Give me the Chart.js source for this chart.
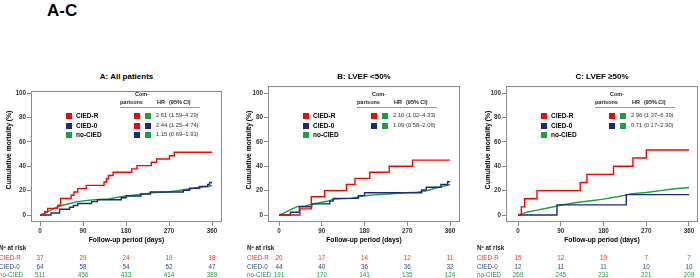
<!DOCTYPE html>
<html>
<head>
<meta charset="utf-8">
<title>Cumulative mortality A-C</title>
<script src="https://cdn.jsdelivr.net/npm/chart.js@4.4.1/dist/chart.umd.min.js"></script>
<style>
  body { margin: 0; background: #fff; }
  #fig { position: relative; width: 700px; height: 278px; overflow: hidden; font-family: "Liberation Sans", Arial, sans-serif; }
  #fig canvas { position: absolute; }
  .t { position: absolute; white-space: nowrap; line-height: 1; }
  .sq { position: absolute; width: 6px; height: 6px; }
  .rule { position: absolute; height: 0; border-top: 1px solid #999; }
</style>
</head>
<body>
<div id="fig"></div>
<script>
// ---- data ----
const tickDays = [0, 90, 180, 270, 360];
const tickPct = [0, 20, 40, 60, 80, 100];
const groups = ['CIED-R', 'CIED-0', 'no-CIED'];
const panelTitles = ['A:  All patients', 'B:  LVEF <50%', 'C:  LVEF \u226550%'];

// A: all patients
const daysA_R = [0, 10, 16, 37, 43, 65, 71, 79, 97, 134, 139, 143, 153, 192, 203, 233, 244, 271, 281, 360];
const pctA_R  = [0, 2.7, 5.4, 8.1, 13.5, 16.2, 18.9, 21.6, 24.3, 27.0, 29.7, 32.4, 35.1, 37.8, 40.5, 43.2, 45.9, 48.6, 51.4, 51.4];
const daysA_0 = [0, 23, 41, 62, 70, 79, 108, 120, 170, 180, 211, 231, 300, 313, 334, 351, 355, 360];
const pctA_0  = [0, 1.6, 4.7, 6.3, 7.8, 9.4, 11.0, 12.5, 14.1, 15.6, 17.2, 18.8, 20.3, 21.9, 23.4, 25.0, 26.6, 26.6];
const daysA_N = [0, 8, 16, 25, 37, 48, 58, 70, 79, 95, 108, 125, 143, 160, 180, 195, 211, 225, 238, 255, 270, 285, 298, 315, 334, 348, 360];
const pctA_N  = [0, 1.2, 2.7, 4.5, 6.8, 8.0, 9.0, 10.2, 11.0, 11.8, 12.3, 12.7, 13.1, 14.3, 15.6, 16.3, 17.0, 17.6, 18.3, 18.7, 19.1, 19.8, 20.5, 21.5, 22.7, 23.4, 24.0];

// B: LVEF <50%
const daysB_R = [0, 44, 68, 96, 142, 160, 191, 232, 281, 360];
const pctB_R  = [0, 5, 15, 20, 25, 30, 35, 40, 45, 45];
const daysB_0 = [0, 24, 43, 69, 107, 114, 167, 180, 300, 310, 341, 355, 360];
const pctB_0  = [0, 2.3, 6.8, 9.1, 11.4, 13.6, 15.9, 18.2, 20.5, 22.7, 25.0, 27.3, 27.3];
const daysB_N = [0, 10, 20, 30, 40, 55, 69, 85, 104, 114, 130, 150, 165, 180, 200, 230, 250, 270, 290, 300, 315, 328, 345, 360];
const pctB_N  = [0, 1.5, 3.5, 5.5, 7.0, 7.5, 8.8, 10.0, 11.5, 12.8, 13.2, 13.6, 14.5, 15.8, 16.5, 17.2, 17.8, 18.3, 18.7, 19.0, 20.3, 21.9, 23.5, 25.0];

// C: LVEF >=50%
const daysC_R = [0, 7, 14, 40, 131, 145, 201, 242, 270, 360];
const pctC_R  = [0, 6.7, 13.3, 20.0, 26.7, 33.3, 40.0, 46.7, 53.3, 53.3];
const daysC_0 = [0, 82, 228, 360];
const pctC_0  = [0, 8.3, 16.7, 16.7];
const daysC_N = [0, 10, 20, 40, 60, 90, 120, 150, 180, 210, 240, 270, 300, 330, 360];
const pctC_N  = [0, 1.0, 2.5, 4.0, 5.5, 8.0, 10.0, 11.5, 13.0, 15.0, 17.5, 18.5, 20.0, 21.5, 22.5];

// numbers at risk
const riskA_R = [37, 29, 24, 19, 18];
const riskA_0 = [64, 58, 54, 52, 47];
const riskA_N = [511, 456, 433, 414, 389];
const riskB_R = [20, 17, 14, 12, 11];
const riskB_0 = [44, 40, 36, 36, 32];
const riskB_N = [191, 170, 141, 135, 124];
const riskC_R = [15, 12, 10, 7, 7];
const riskC_0 = [12, 11, 11, 10, 10];
const riskC_N = [269, 245, 231, 221, 209];

// hazard ratio comparisons (pairs index into groups)
const hrA = ['2.61 (1.59\u20134.29)', '2.44 (1.25\u20134.74)', '1.15 (0.69\u20131.91)'];
const hrPairsA = [[0, 2], [0, 1], [1, 2]];
const hrB = ['2.10 (1.02\u20134.33)', '1.09 (0.58\u20132.06)'];
const hrPairsB = [[0, 2], [1, 2]];
const hrC = ['2.96 (1.37\u20136.39)', '0.71 (0.17\u20132.90)'];
const hrPairsC = [[0, 2], [1, 2]];

// ---- styling ----
const lineCols = ['#ff0000', '#1b2a7a', '#1e9e3c'];
const riskCols = ['#ff2a2a', '#34458f', '#1e9e3c'];
const FONT = '"Liberation Sans", Arial, sans-serif';
const fig = document.getElementById('fig');

function addText(str, x, y, o) {
    o = o || {};
    const el = document.createElement('div');
    el.className = 't';
    el.textContent = str;
    el.style.left = x + 'px';
    el.style.top = y + 'px';
    el.style.fontSize = (o.size || 7) + 'px';
    el.style.fontWeight = o.bold ? 'bold' : 'normal';
    el.style.color = o.color || '#000';
    const tx = o.align === 'center' ? '-50%' : (o.align === 'right' ? '-100%' : '0');
    el.style.transform = 'translate(' + tx + ',-50%)' + (o.rotate ? ' rotate(-90deg)' : '');
    fig.appendChild(el);
}

function addSquare(x, y, col) {
    const el = document.createElement('div');
    el.className = 'sq';
    el.style.left = x + 'px';
    el.style.top = (y - 3) + 'px';
    el.style.background = col;
    fig.appendChild(el);
}

const framePlugin = {
    id: 'frame',
    afterDraw(chart) {
        const a = chart.chartArea, ctx = chart.ctx;
        ctx.save();
        ctx.strokeStyle = '#8a8a8a';
        ctx.lineWidth = 1;
        ctx.strokeRect(Math.round(a.left) + 0.5, Math.round(a.top) + 0.5,
                       Math.round(a.right - a.left) - 1, Math.round(a.bottom - a.top) - 1);
        ctx.restore();
    }
};

function toPoints(days, pct) {
    return days.map((d, i) => ({ x: d, y: pct[i] }));
}

function buildPanel(p) {
    const padL = 4, padT = 6, padR = 4, padB = 2, yW = 22, xH = 16;
    const left = p.box.l - yW - padL, top = p.box.t - padT;
    const w = p.box.r - p.box.l + yW + padL + padR;
    const h = p.box.b - p.box.t + xH + padT + padB;
    const cv = document.createElement('canvas');
    cv.width = w; cv.height = h;
    cv.style.left = left + 'px'; cv.style.top = top + 'px';
    cv.style.width = w + 'px'; cv.style.height = h + 'px';
    fig.appendChild(cv);

    const pxDay = (p.x360 - p.x0) / 360;
    const pxPct = (p.y0 - p.y100) / 100;
    const xmin = (p.box.l - p.x0) / pxDay;
    const xmax = 360 + (p.box.r - p.x360) / pxDay;
    const ymax = 100 + (p.y100 - p.box.t) / pxPct;
    const ymin = -(p.box.b - p.y0) / pxPct;

    const tickFont = { family: FONT, size: 6.3, weight: 'bold' };
    const chart = new Chart(cv, {
        type: 'line',
        data: {
            datasets: [
                { data: toPoints(p.days[0], p.pct[0]), borderColor: lineCols[0], stepped: true },
                { data: toPoints(p.days[1], p.pct[1]), borderColor: lineCols[1], stepped: true },
                { data: toPoints(p.days[2], p.pct[2]), borderColor: lineCols[2], stepped: false }
            ]
        },
        options: {
            responsive: false,
            animation: false,
            devicePixelRatio: 1,
            layout: { padding: { left: padL, top: padT, right: padR, bottom: padB } },
            elements: {
                point: { radius: 0 },
                line: { borderWidth: 1.4, tension: 0, fill: false, borderCapStyle: 'butt', borderJoinStyle: 'miter' }
            },
            plugins: { legend: { display: false }, tooltip: { enabled: false }, title: { display: false } },
            scales: {
                x: {
                    type: 'linear', min: xmin, max: xmax,
                    afterBuildTicks: s => { s.ticks = tickDays.map(v => ({ value: v })); },
                    afterFit: s => { s.height = xH; },
                    border: { display: false },
                    grid: { drawOnChartArea: false, drawTicks: true, tickLength: 4, color: '#8a8a8a' },
                    ticks: { font: tickFont, color: '#333', padding: 1, maxRotation: 0, autoSkip: false, callback: v => String(v) }
                },
                y: {
                    type: 'linear', min: ymin, max: ymax,
                    afterBuildTicks: s => { s.ticks = tickPct.map(v => ({ value: v })); },
                    afterFit: s => { s.width = yW; },
                    border: { display: false },
                    grid: { drawOnChartArea: false, drawTicks: true, tickLength: 4, color: '#8a8a8a' },
                    ticks: { font: tickFont, color: '#333', padding: 1, autoSkip: false, callback: v => String(v) }
                }
            }
        },
        plugins: [framePlugin]
    });

    const cx = (p.box.l + p.box.r) / 2;
    // panel title and axis titles
    addText(p.title, cx, 77, { size: 8, bold: true, align: 'center' });
    addText('Follow-up period (days)', cx, 240, { size: 6.7, bold: true, align: 'center' });
    addText('Cumulative mortality (%)', p.box.l - p.yTitleOff, 150, { size: 6.7, bold: true, align: 'center', rotate: true });

    // legend inside plot
    const rowsY = [116, 125.5, 135];
    groups.forEach((g, i) => {
        addSquare(p.box.l + 35, rowsY[i], lineCols[i]);
        addText(g, p.box.l + 45, rowsY[i], { size: 6.5, bold: true });
    });

    // comparisons table
    const cl = p.box.l + 89;
    addText('Com-', cl + 22, 95, { size: 5.5, bold: true, color: '#222', align: 'center' });
    addText('parisons', cl, 103, { size: 5.5, bold: true, color: '#222' });
    addText('HR', cl + 37, 103, { size: 5.5, bold: true, color: '#222' });
    addText('(95% CI)', cl + 49, 103, { size: 5.5, bold: true, color: '#222' });
    const rule = document.createElement('div');
    rule.className = 'rule';
    rule.style.left = cl + 'px'; rule.style.top = '107px'; rule.style.width = '80px';
    fig.appendChild(rule);
    p.hr.forEach((txt, i) => {
        addSquare(cl + 14, rowsY[i], lineCols[p.pairs[i][0]]);
        addSquare(cl + 25, rowsY[i], lineCols[p.pairs[i][1]]);
        addText(txt, cl + 36, rowsY[i], { size: 5.8, color: '#333' });
    });

    // numbers at risk
    addText('N\u00ba at risk', p.riskX, 248.3, { size: 6.3, bold: true, color: '#222' });
    const riskY = [258.3, 266.5, 275];
    p.risk.forEach((row, i) => {
        addText(groups[i], p.riskX, riskY[i], { size: 6.3, color: riskCols[i] });
        row.forEach((n, j) => {
            const x = left + chart.scales.x.getPixelForValue(tickDays[j]);
            addText(String(n), x, riskY[i], { size: 6.3, color: riskCols[i], align: 'center' });
        });
    });
}

addText('A-C', 47, 10, { size: 17, bold: true });

buildPanel({
    title: panelTitles[0],
    box: { l: 31, t: 91, r: 222, b: 222 }, x0: 40, x360: 212, y0: 215, y100: 93,
    days: [daysA_R, daysA_0, daysA_N], pct: [pctA_R, pctA_0, pctA_N],
    hr: hrA, pairs: hrPairsA, risk: [riskA_R, riskA_0, riskA_N], riskX: -1, yTitleOff: 22
});
buildPanel({
    title: panelTitles[1],
    box: { l: 268, t: 86, r: 460, b: 222 }, x0: 279, x360: 450, y0: 215, y100: 93,
    days: [daysB_R, daysB_0, daysB_N], pct: [pctB_R, pctB_0, pctB_N],
    hr: hrB, pairs: hrPairsB, risk: [riskB_R, riskB_0, riskB_N], riskX: 247, yTitleOff: 19
});
buildPanel({
    title: panelTitles[2],
    box: { l: 506, t: 86, r: 698, b: 222 }, x0: 518, x360: 689, y0: 215, y100: 93,
    days: [daysC_R, daysC_0, daysC_N], pct: [pctC_R, pctC_0, pctC_N],
    hr: hrC, pairs: hrPairsC, risk: [riskC_R, riskC_0, riskC_N], riskX: 477, yTitleOff: 18.5
});
</script>
</body>
</html>
